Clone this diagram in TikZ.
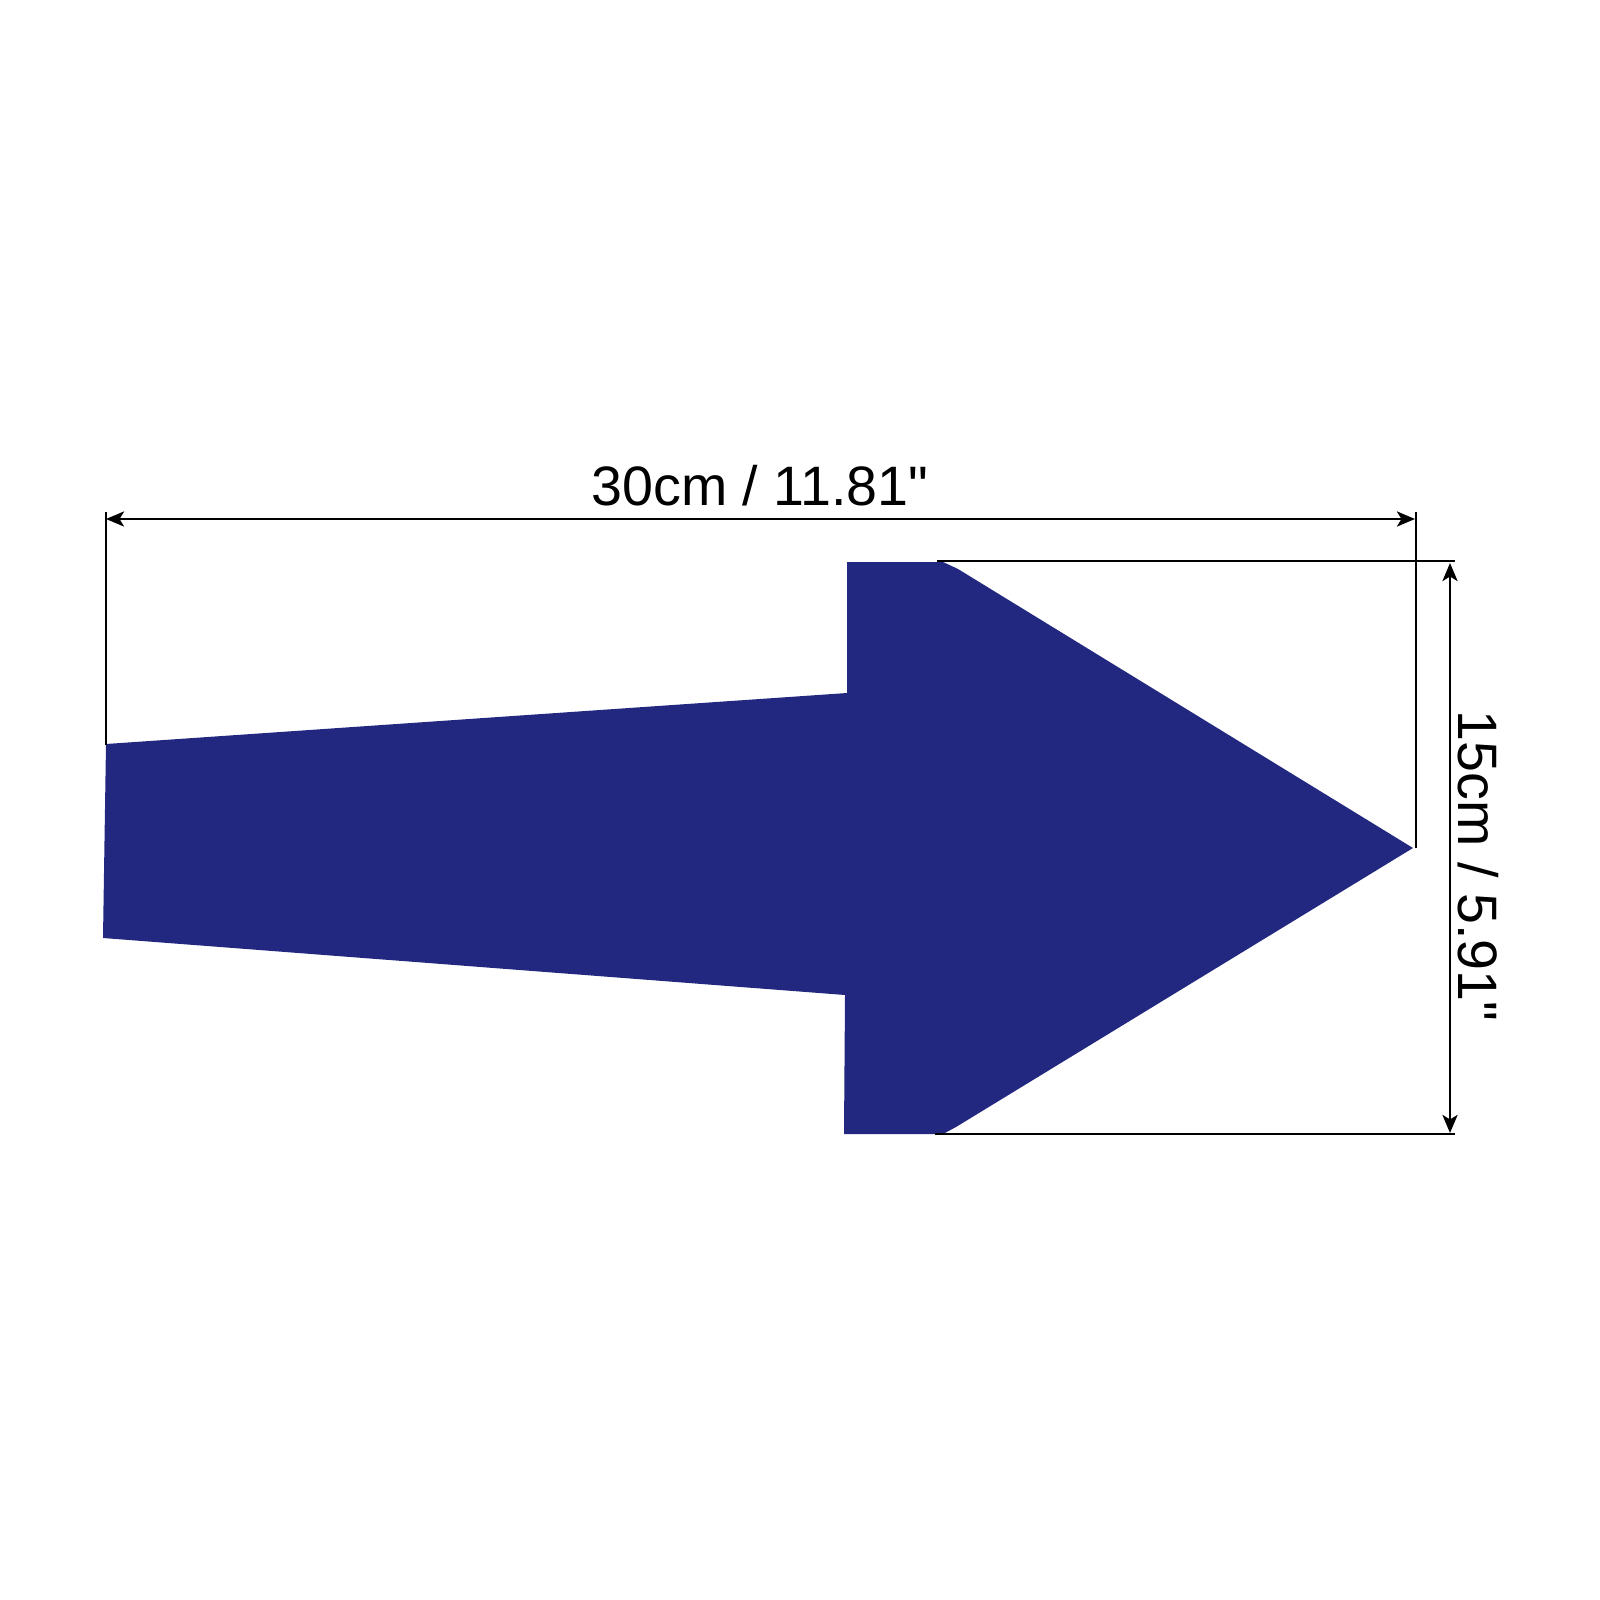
\documentclass[tikz,border=0pt]{standalone}
\usepackage{fontspec}
\setmainfont{Liberation Sans}[Ligatures=TeXOff]
\usetikzlibrary{arrows.meta}

\definecolor{signblue}{RGB}{34,39,128}

\tikzset{
  dimline/.style={line width=.8pt, {Stealth[length=1.8mm,width=1.5mm,inset=.45mm]}-{Stealth[length=1.8mm,width=1.5mm,inset=.45mm]}},
  extline/.style={line width=.8pt},
  dimtext/.style={font=\fontsize{15.8}{18}\selectfont, inner sep=0pt, anchor=base}
}

\begin{document}
\begin{tikzpicture}[x=.01cm, y=-.01cm]

\useasboundingbox (0,0) rectangle (1600,1600);

% the arrow sign
\draw [fill=signblue, draw=none] (106,744) -- (847,693) -- (847,562) -- (943,562) -- (958,569)
  -- (1413,848) -- (956,1127) -- (943,1134)
  -- (844,1134) -- (845,995) -- (103,938) -- cycle;

% width
\coordinate (wl) at (106,519);
\coordinate (wr) at (1415,519);
\coordinate (wltop) at (106,512);
\coordinate (wlbot) at (106,745);
\coordinate (wrtop) at (1416,512);
\coordinate (wrbot) at (1416,848);
\draw [extline] (wltop) -- (wlbot);
\draw [extline] (wrtop) -- (wrbot);
\draw [dimline] (wl) -- (wr);
\node [dimtext] (wlabel) at (760,505) {30cm / 11.81"};

% height
\coordinate (ht) at (1450,563);
\coordinate (hb) at (1450,1133);
\coordinate (httl) at (937,561);
\coordinate (httr) at (1455,561);
\coordinate (hbbl) at (935,1134);
\coordinate (hbbr) at (1455,1134);
\draw [extline] (httl) -- (httr);
\draw [extline] (hbbl) -- (hbbr);
\draw [dimline] (ht) -- (hb);
\node [dimtext, rotate=-90] (hlabel) at (1458,866) {15cm / 5.91"};

\end{tikzpicture}
\end{document}
